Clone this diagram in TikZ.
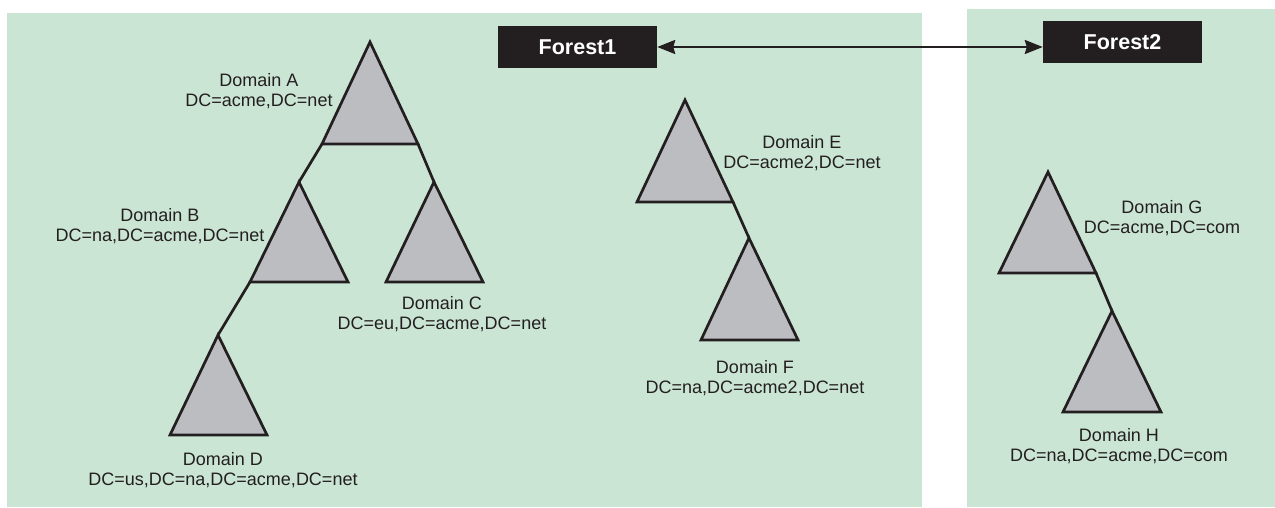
\documentclass[tikz,border=0pt]{standalone}
\usepackage{fontspec}
\setmainfont{Liberation Sans}
\usetikzlibrary{arrows.meta}
\definecolor{panelgreen}{RGB}{203,229,212}
\definecolor{trigray}{RGB}{188,189,193}
\definecolor{ink}{RGB}{35,31,32}
\begin{document}
\begin{tikzpicture}[x=1pt,y=-1pt,
  panel/.style={fill=panelgreen,draw=none},
  tri/.style={fill=trigray,draw=ink,line width=2.7pt,line join=miter},
  link/.style={draw=ink,line width=2.7pt},
  lbl/.style={text=ink,font=\fontsize{18}{20}\selectfont,align=center,inner sep=0pt},
  forestbox/.style={fill=ink,text=white,font=\fontsize{21.5}{24}\selectfont\bfseries,minimum width=159pt,minimum height=42pt,inner sep=0pt},
  trust/.style={draw=ink,line width=2.2pt,{Stealth[length=18pt,width=14pt,inset=2pt]}-{Stealth[length=18pt,width=14pt,inset=2pt]}}]
\useasboundingbox (0,0) rectangle (1275,508);
% panels
\fill[panel] (7,13) rectangle (922,507);
\fill[panel] (967,9) rectangle (1275,507);
% forest boxes
\node[forestbox] (f1) at (577.5,47) {Forest1};
\node[forestbox] (f2) at (1122.5,42) {Forest2};
\draw[trust] (f1.east) -- (f1.east -| f2.west);
% triangle vertices
\coordinate (Aa) at (370,42);  \coordinate (Al) at (322,144); \coordinate (Ar) at (418,144);
\coordinate (Ba) at (299,182); \coordinate (Bl) at (250,282); \coordinate (Br) at (348,282);
\coordinate (Ca) at (434,182); \coordinate (Cl) at (386,282); \coordinate (Cr) at (483,282);
\coordinate (Da) at (218,335); \coordinate (Dl) at (170,435); \coordinate (Dr) at (267,435);
\coordinate (Ea) at (685,100); \coordinate (El) at (637,202); \coordinate (Er) at (733,202);
\coordinate (Fa) at (749,238); \coordinate (Fl) at (701,340); \coordinate (Fr) at (798,340);
\coordinate (Ga) at (1048,172); \coordinate (Gl) at (999,273); \coordinate (Gr) at (1096,273);
\coordinate (Ha) at (1112,311); \coordinate (Hl) at (1063,412); \coordinate (Hr) at (1161,412);
% links
\draw[link] (Al) -- (Ba);
\draw[link] (Ar) -- (Ca);
\draw[link] (Bl) -- (Da);
\draw[link] (Er) -- (Fa);
\draw[link] (Gr) -- (Ha);
% triangles
\foreach \t in {A,B,C,D,E,F,G,H}
  \draw[tri] (\t a) -- (\t l) -- (\t r) -- cycle;
% labels
\node[lbl] (lA) at (259,91) {Domain A\\DC=acme,DC=net};
\node[lbl] (lB) at (160,226) {Domain B\\DC=na,DC=acme,DC=net};
\node[lbl] (lC) at (442,314) {Domain C\\DC=eu,DC=acme,DC=net};
\node[lbl] (lD) at (223,470) {Domain D\\DC=us,DC=na,DC=acme,DC=net};
\node[lbl] (lE) at (802,153) {Domain E\\DC=acme2,DC=net};
\node[lbl] (lF) at (755,378) {Domain F\\DC=na,DC=acme2,DC=net};
\node[lbl] (lG) at (1162,218) {Domain G\\DC=acme,DC=com};
\node[lbl] (lH) at (1119,446) {Domain H\\DC=na,DC=acme,DC=com};
\end{tikzpicture}
\end{document}
